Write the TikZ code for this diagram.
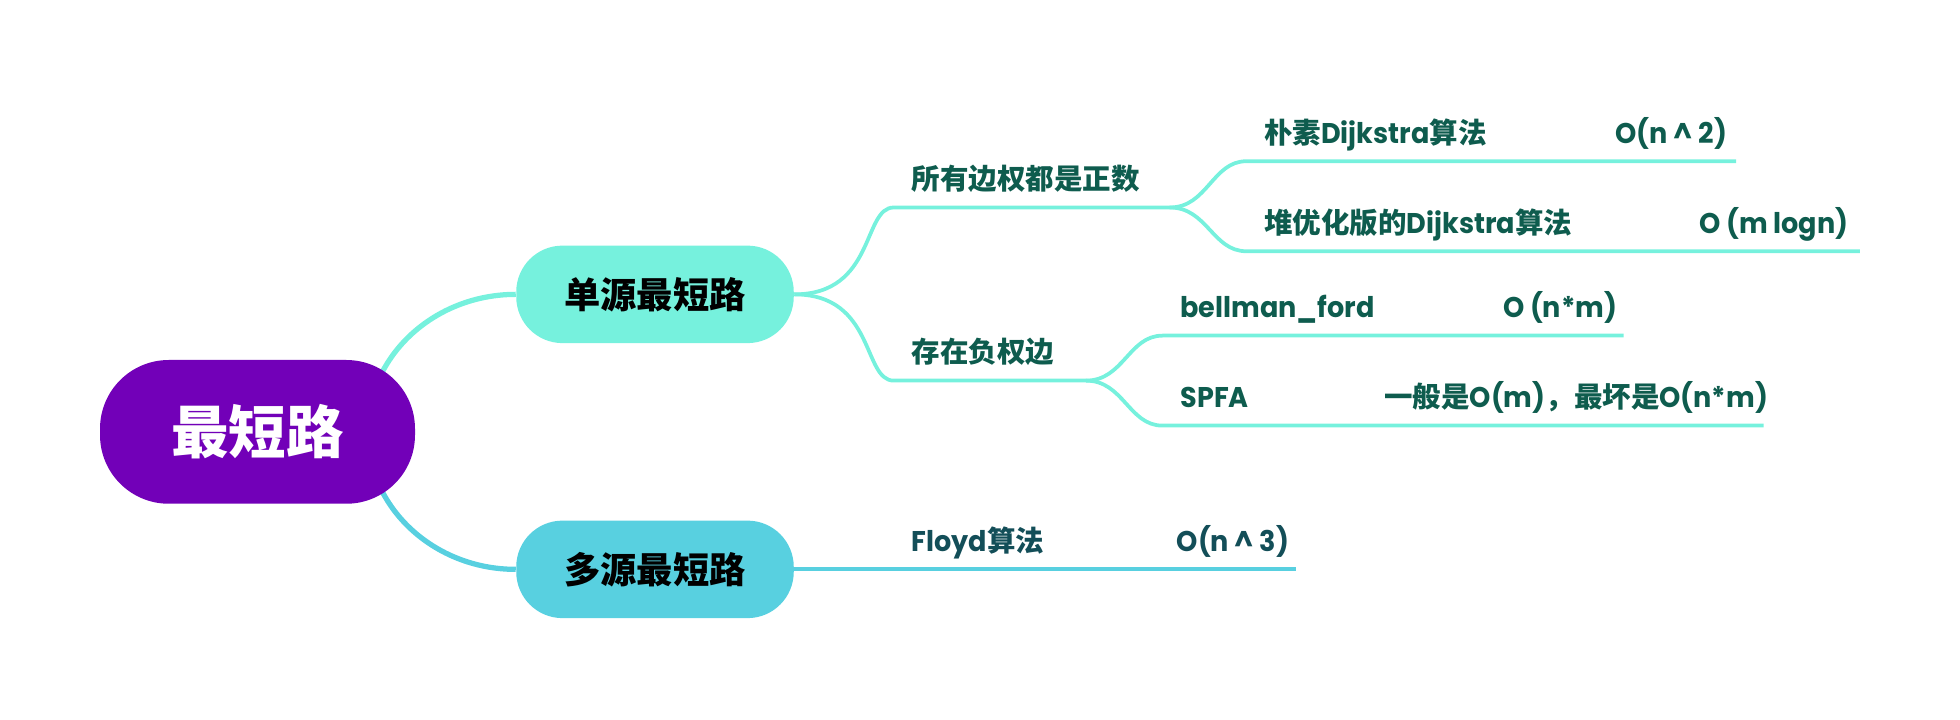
\documentclass[tikz,border=0pt]{standalone}
\usepackage{fontspec}
\setmainfont{Poppins}[FakeStretch=0.95]
\newfontfamily\zhfont{Noto Sans CJK SC}
\usetikzlibrary{backgrounds}
\definecolor{rootc}{HTML}{7200B8}
\definecolor{cyanc}{HTML}{76F1DD}
\definecolor{bluec}{HTML}{58D0E0}
\definecolor{leafc}{HTML}{0E5C4E}
\definecolor{floydc}{HTML}{134E58}
\newcommand\zh[1]{{\zhfont #1}}
\newcommand\topictext[2]{\makebox[#1][l]{\hspace{7pt}#2}}
\newcommand\cplx[2]{\makebox[#1][l]{#2}}
\begin{document}
\begin{tikzpicture}[x=0.5pt,y=-0.5pt,
  rootbox/.style={fill=rootc, rounded corners=27.5pt, minimum width=126pt, minimum height=57.5pt, inner sep=0pt, text=white, font=\fontsize{23}{23}\selectfont\bfseries},
  mainbox/.style={rounded corners=18.5pt, minimum width=111pt, minimum height=39pt, inner sep=0pt, text=black, font=\fontsize{14.5}{14.5}\selectfont\bfseries},
  topic/.style={anchor=south west, inner xsep=0pt, inner ysep=0pt, text height=9pt, text depth=6.9pt, text=leafc, font=\fontsize{11.4}{11.4}\selectfont\bfseries},
  thickline/.style={line width=2.1pt},
  thinline/.style={line width=1.5pt},
]
\useasboundingbox (0,0) rectangle (1568,576);

\node[rootbox] (root) at (206,345.5) {\zh{最短路}};
\node[mainbox, fill=cyanc] (single) at (524,235.5) {\zh{单源最短路}};
\node[mainbox, fill=bluec] (multi) at (524,455.5) {\zh{多源最短路}};

\node[topic] (pos) at (715,166) {\topictext{110pt}{\zh{所有边权都是正数}}};
\node[topic] (neg) at (715,304.5) {\topictext{76.5pt}{\zh{存在负权边}}};
\node[topic] (naive) at (997,129) {\topictext{195.5pt}{\cplx{140.5pt}{\zh{朴素}Dijkstra\zh{算法}}O(n \textasciicircum{} 2)}};
\node[topic] (heap) at (997,201) {\topictext{245pt}{\cplx{174pt}{\zh{堆优化版的}Dijkstra\zh{算法}}O (m logn)}};
\node[topic] (bellman) at (930,268.5) {\topictext{184pt}{\cplx{129pt}{bellman\_ford}O (n*m)}};
\node[topic] (spfa) at (930,340.5) {\topictext{240pt}{\cplx{81.5pt}{SPFA}\zh{一般是}O(m)\zh{，最坏是}O(n*m)}};
\node[topic, text=floydc] (floyd) at (715,455.5) {\topictext{160.5pt}{\cplx{106pt}{Floyd\zh{算法}}O(n \textasciicircum{} 3)}};

\begin{scope}[on background layer]
\draw[thickline, cyanc] (root.center) -- ++(88,0) .. controls +(0,-60.4) and +(-65.7,0) .. (single.west);
\draw[thickline, bluec] (root.center) -- ++(88,0) .. controls +(0,60.4) and +(-65.7,0) .. (multi.west);
\draw[thinline, cyanc] (single.east) .. controls +(65,0) and +(-25,0) .. (pos.south west) -- (pos.south east);
\draw[thinline, cyanc] (single.east) .. controls +(65,0) and +(-25,0) .. (neg.south west) -- (neg.south east);
\draw[thinline, cyanc] (pos.south east) .. controls +(30,0) and +(-27,0) .. (naive.south west) -- (naive.south east);
\draw[thinline, cyanc] (pos.south east) .. controls +(30,0) and +(-27,0) .. (heap.south west) -- (heap.south east);
\draw[thinline, cyanc] (neg.south east) .. controls +(30,0) and +(-27,0) .. (bellman.south west) -- (bellman.south east);
\draw[thinline, cyanc] (neg.south east) .. controls +(30,0) and +(-27,0) .. (spfa.south west) -- (spfa.south east);
\draw[thinline, bluec] (multi.east) -- (floyd.south west) -- (floyd.south east);
\end{scope}
\end{tikzpicture}
\end{document}
